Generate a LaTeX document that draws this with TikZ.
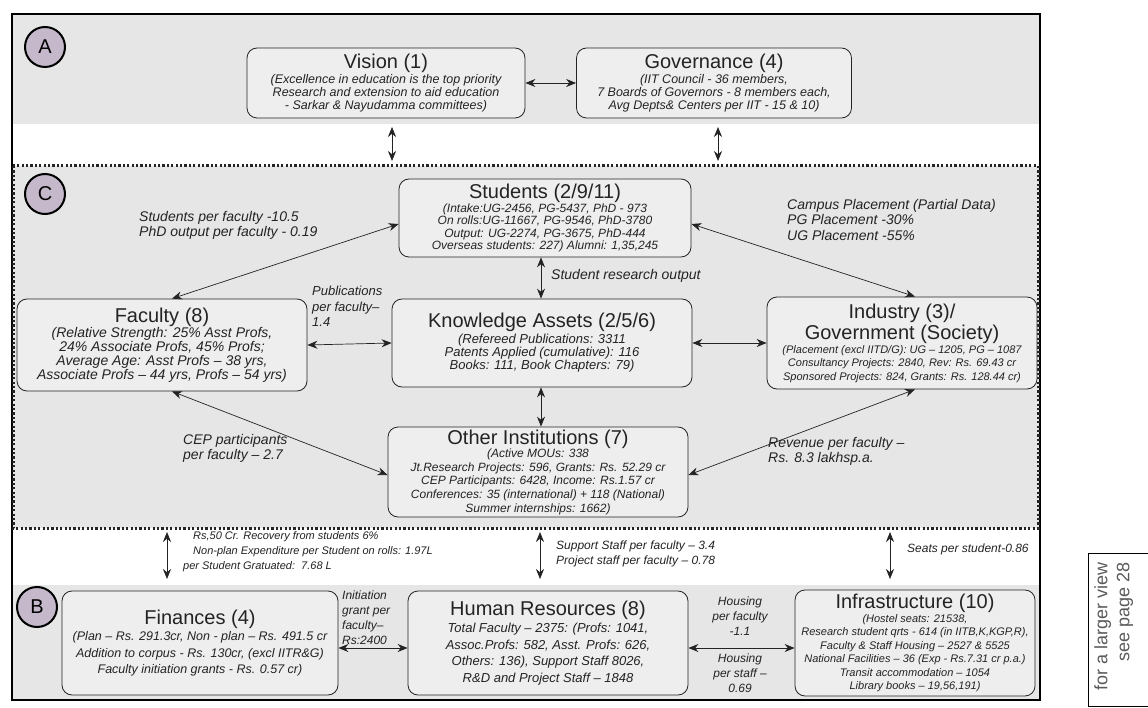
\documentclass[tikz,border=0pt]{standalone}
\usepackage{fontspec}
\setmainfont{Liberation Sans}
\usetikzlibrary{arrows.meta,calc}
\definecolor{bandgray}{RGB}{230,230,230}
\definecolor{boxgray}{RGB}{238,238,238}
\definecolor{circfill}{RGB}{196,184,202}
\definecolor{ink}{RGB}{35,35,35}
\definecolor{sidegray}{RGB}{90,90,90}
\newcommand{\TitleF}{\fontsize{20}{22}\selectfont\upshape}
\newcommand{\BodyF}[2]{\fontsize{#1}{#2}\selectfont\itshape}
\begin{document}
\begin{tikzpicture}[x=1pt,y=-1pt,
  box/.style={draw=ink, line width=0.8pt, rounded corners=10pt, fill=boxgray, align=center, inner sep=2pt, text=ink},
  dbl/.style={{Stealth[length=10pt,width=8pt]}-{Stealth[length=10pt,width=8pt]}, line width=0.7pt, draw=ink},
  lbl/.style={font=\fontsize{14}{15.5}\selectfont\itshape, text=ink, inner sep=0pt, align=left, anchor=north west},
  slbl/.style={font=\fontsize{12}{15}\selectfont\itshape, text=ink, inner sep=0pt, align=left, anchor=north west},
  circ/.style={circle, draw=black, line width=2pt, fill=circfill, minimum size=40pt, inner sep=0pt, font=\fontsize{20}{20}\selectfont}]
\useasboundingbox (0,0) rectangle (1148,708);
\fill[white] (0,0) rectangle (1148,708);
% bands
\fill[bandgray] (12,14) rectangle (1040,124);
\fill[bandgray] (12,166) rectangle (1040,528);
\fill[bandgray] (12,585) rectangle (1040,700);
% frame
\draw[black, line width=1.6pt] (12,14) rectangle (1040,700);
% C dotted border
\draw[ink, line width=3pt, dash pattern=on 2.2pt off 2.2pt] (13,166) rectangle (1038,528);
% side box
\draw[black, line width=0.8pt] (1152,553) -- (1088,553) -- (1088,706) -- (1152,706);
\node[rotate=90, align=right, text=sidegray, font=\fontsize{18}{22}\selectfont, anchor=north east, inner sep=0pt] (side) at (1094,562) {for a larger view\\see page 28};

% circles
\node[circ] (cA) at (45,47) {A};
\node[circ] (cC) at (45,194) {C};
\node[circ] (cB) at (37,607) {B};

% A boxes
\node[box, minimum width=278pt, minimum height=70pt, font=\BodyF{12.5}{13}] (vision) at (386,83)
 {{\TitleF Vision (1)}\\[1pt](Excellence in education is the top priority\\Research and extension to aid education\\- Sarkar \& Nayudamma committees)};
\node[box, minimum width=275pt, minimum height=70pt, font=\BodyF{12.5}{13}] (gov) at (714,83)
 {{\TitleF Governance (4)}\\[1pt](IIT Council - 36 members,\\7 Boards of Governors - 8 members each,\\Avg Depts\& Centers per IIT - 15 \& 10)};

% C boxes
\node[box, minimum width=292pt, minimum height=78pt, font=\BodyF{12}{12.2}] (students) at (545,218)
 {{\TitleF Students (2/9/11)}\\[0pt](Intake:UG-2456, PG-5437, PhD - 973\\On rolls:UG-11667, PG-9546, PhD-3780\\Output: UG-2274, PG-3675, PhD-444\\Overseas students: 227) Alumni: 1,35,245};
\node[box, minimum width=290pt, minimum height=92pt, font=\BodyF{14}{13.8}] (faculty) at (162,345)
 {{\TitleF Faculty (8)}\\[0pt](Relative Strength: 25\% Asst Profs,\\24\% Associate Profs, 45\% Profs;\\Average Age: Asst Profs – 38 yrs,\\Associate Profs – 44 yrs, Profs – 54 yrs)};
\node[box, minimum width=300pt, minimum height=88pt, font=\BodyF{13}{13.2}] (know) at (542,343)
 {{\TitleF Knowledge Assets (2/5/6)}\\[1pt](Refereed Publications: 3311\\Patents Applied (cumulative): 116\\Books: 111, Book Chapters: 79)};
\node[box, minimum width=270pt, minimum height=92pt, font=\BodyF{11}{13.5}] (industry) at (902,343)
 {{\TitleF Industry (3)/}\\[2pt]{\TitleF Government (Society)}\\[0pt](Placement (excl IITD/G): UG – 1205, PG – 1087\\Consultancy Projects: 2840, Rev: Rs. 69.43 cr\\Sponsored Projects: 824, Grants: Rs. 128.44 cr)};
\node[box, minimum width=300pt, minimum height=90pt, font=\BodyF{12}{13.6}] (other) at (538,472)
 {{\TitleF Other Institutions (7)}\\(Active MOUs: 338\\Jt.Research Projects: 596, Grants: Rs. 52.29 cr\\CEP Participants: 6428, Income: Rs.1.57 cr\\Conferences: 35 (international) + 118 (National)\\Summer internships: 1662)};

% B boxes
\node[box, minimum width=276pt, minimum height=104pt, font=\BodyF{12.5}{16.5}] (fin) at (200,643)
 {{\TitleF Finances (4)}\\[0pt](Plan – Rs. 291.3cr, Non - plan – Rs. 491.5 cr\\Addition to corpus - Rs. 130cr, (excl IITR\&G)\\Faculty initiation grants - Rs. 0.57 cr)};
\node[box, minimum width=280pt, minimum height=104pt, font=\BodyF{13}{16.5}] (hr) at (548,643)
 {{\TitleF Human Resources (8)}\\[1pt]Total Faculty – 2375: (Profs: 1041,\\Assoc.Profs: 582, Asst. Profs: 626,\\Others: 136), Support Staff 8026,\\R\&D and Project Staff – 1848};
\node[box, minimum width=240pt, minimum height=106pt, font=\BodyF{11}{13.5}] (infra) at (915,643)
 {{\TitleF Infrastructure (10)}\\(Hostel seats: 21538,\\Research student qrts - 614 (in IITB,K,KGP,R),\\Faculty \& Staff Housing – 2527 \& 5525\\National Facilities – 36 (Exp - Rs.7.31 cr p.a.)\\Transit accommodation – 1054\\Library books – 19,56,191)};

% labels
\node[lbl] (l1) at (139,211) {Students per faculty -10.5\\PhD output per faculty - 0.19};
\node[lbl] (l2) at (787,199) {Campus Placement (Partial Data)\\PG Placement -30\%\\UG Placement -55\%};
\node[lbl] (l3) at (551,269) {Student research output};
\node[lbl, font=\fontsize{13}{15.5}\selectfont\itshape] (l4) at (312,286) {Publications\\per faculty–\\1.4};
\node[lbl] (l5) at (183,434) {CEP participants\\per faculty – 2.7};
\node[lbl] (l6) at (768,437) {Revenue per faculty –\\Rs. 8.3 lakhsp.a.};
\node[slbl, font=\fontsize{11}{15}\selectfont\itshape] (l7) at (193,531) {Rs,50 Cr. Recovery from students 6\%\\Non-plan Expenditure per Student on rolls: 1.97L\\\hspace*{-10pt}per Student Gratuated:\ \ 7.68 L};
\node[slbl] (l8) at (556,541) {Support Staff per faculty – 3.4\\Project staff per faculty – 0.78};
\node[slbl] (l9) at (907,544) {Seats per student-0.86};
\node[slbl] (l10) at (342,591) {Initiation\\grant per\\faculty–\\Rs:2400};
\node[slbl, align=center, anchor=north] (l11) at (740,597) {Housing\\per faculty\\-1.1};
\node[slbl, align=center, anchor=north] (l12) at (740,654) {Housing\\per staff –\\0.69};

% coordinates for free ends
\coordinate (a1t) at (392,127);
\coordinate (a1b) at (392,161);
\coordinate (a2t) at (718,127);
\coordinate (a2b) at (718,161);
\coordinate (b1t) at (167,532);
\coordinate (b1b) at (167,579);
\coordinate (b2t) at (540,532);
\coordinate (b2b) at (540,579);
\coordinate (b3t) at (890,532);
\coordinate (b3b) at (890,579);

% connectors
\draw[dbl] (vision.east) -- (gov.west);
\draw[dbl] (a1t) -- (a1b);
\draw[dbl] (a2t) -- (a2b);
\draw[dbl] ([yshift=-6pt]students.west) -- ([xshift=10pt]faculty.north);
\draw[dbl] ([yshift=-6pt]students.east) -- ([xshift=13pt]industry.north);
\draw[dbl] ([xshift=-4pt]students.south) -- ([xshift=-1pt]know.north);
\draw[dbl] (faculty.east) -- (know.west);
\draw[dbl] (know.east) -- (industry.west);
\draw[dbl] ([xshift=-1pt]know.south) -- ([xshift=3pt]other.north);
\draw[dbl] ([xshift=10pt]faculty.south) -- ([yshift=-3pt]other.west);
\draw[dbl] ([xshift=13pt]industry.south) -- ([yshift=-3pt]other.east);
\draw[dbl] (b1t) -- (b1b);
\draw[dbl] (b2t) -- (b2b);
\draw[dbl] (b3t) -- (b3b);
\draw[dbl] ([yshift=-5pt]fin.east) -- ([yshift=-5pt]hr.west);
\draw[dbl] ([yshift=-5pt]hr.east) -- ([yshift=-5pt]infra.west);
\end{tikzpicture}
\end{document}
